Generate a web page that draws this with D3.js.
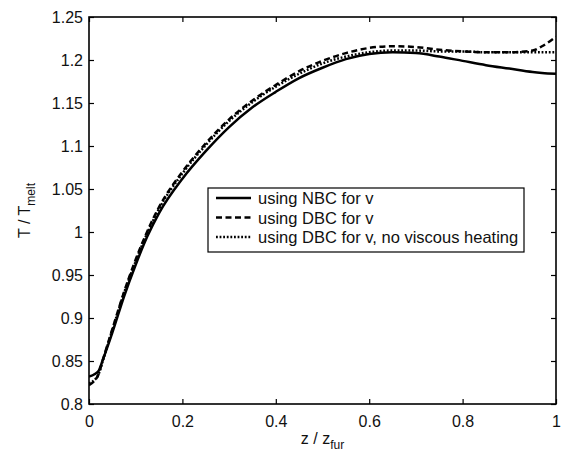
<!DOCTYPE html>
<html>
<head>
<meta charset="utf-8">
<script src="https://cdn.jsdelivr.net/npm/d3@7"></script>
<style>
  html, body { margin: 0; padding: 0; background: #fff; }
  svg { display: block; font-family: "Liberation Sans", Arial, sans-serif; }
</style>
</head>
<body>
<svg id="chart" width="568" height="453"></svg>
<script>
// axial position z / z_fur
const zPos = [0, 0.01, 0.02, 0.03, 0.05, 0.075, 0.1, 0.125, 0.15, 0.2, 0.25, 0.3, 0.35, 0.4,
  0.45, 0.5, 0.55, 0.6, 0.65, 0.7, 0.75, 0.8, 0.85, 0.9, 0.95, 0.97, 1.0];

// T / T_melt, Neumann boundary condition for v
const tNBC = [0.832, 0.834, 0.838, 0.852, 0.883, 0.925, 0.962, 0.995, 1.022, 1.062, 1.094, 1.122,
  1.145, 1.163, 1.179, 1.191, 1.201, 1.207, 1.209, 1.208, 1.204, 1.199, 1.194, 1.190, 1.186, 1.185, 1.184];

// T / T_melt, Dirichlet boundary condition for v
const tDBC = [0.822, 0.826, 0.834, 0.852, 0.887, 0.930, 0.968, 1.001, 1.029, 1.070, 1.103, 1.131,
  1.153, 1.171, 1.187, 1.199, 1.208, 1.214, 1.216, 1.215, 1.212, 1.210, 1.209, 1.209, 1.211, 1.216, 1.227];

// T / T_melt, Dirichlet boundary condition, viscous heating switched off
const tDBCnoVisc = [0.824, 0.827, 0.834, 0.851, 0.886, 0.929, 0.966, 0.999, 1.027, 1.068, 1.101, 1.129,
  1.151, 1.169, 1.184, 1.196, 1.204, 1.209, 1.211, 1.211, 1.210, 1.210, 1.209, 1.209, 1.209, 1.209, 1.209];

const seriesNames = ["using NBC for v", "using DBC for v", "using DBC for v, no viscous heating"];
const xTicks = [0, 0.2, 0.4, 0.6, 0.8, 1];
const yTicks = [0.8, 0.85, 0.9, 0.95, 1, 1.05, 1.1, 1.15, 1.2, 1.25];

const dashStyles = [null, "6,3.5", "1.8,1.8"];

const svg = d3.select("#chart");
const margin = { left: 89, right: 12, top: 17, bottom: 49 };
const W = 568, H = 453;
const innerW = W - margin.left - margin.right;
const innerH = H - margin.top - margin.bottom;

const x = d3.scaleLinear().domain([0, 1]).range([margin.left, margin.left + innerW]);
const y = d3.scaleLinear().domain([0.8, 1.25]).range([margin.top + innerH, margin.top]);

const fmt = d => String(+d.toFixed(2));

// axes: ticks pointing inward on all four sides
const axisFont = "16px";
const gB = svg.append("g").attr("transform", `translate(0,${y(0.8)})`)
  .call(d3.axisBottom(x).tickValues(xTicks).tickFormat(fmt).tickSizeInner(-5).tickSizeOuter(0).tickPadding(12));
const gT = svg.append("g").attr("transform", `translate(0,${y(1.25)})`)
  .call(d3.axisTop(x).tickValues(xTicks).tickFormat("").tickSizeInner(-5).tickSizeOuter(0));
const gL = svg.append("g").attr("transform", `translate(${x(0)},0)`)
  .call(d3.axisLeft(y).tickValues(yTicks).tickFormat(fmt).tickSizeInner(-5).tickSizeOuter(0).tickPadding(6));
const gR = svg.append("g").attr("transform", `translate(${x(1)},0)`)
  .call(d3.axisRight(y).tickValues(yTicks).tickFormat("").tickSizeInner(-5).tickSizeOuter(0));

[gB, gT, gL, gR].forEach(g => {
  g.select(".domain").remove();
  g.selectAll(".tick line").attr("stroke", "#000").attr("stroke-width", 1.2);
  g.selectAll(".tick text").attr("fill", "#111").style("font-size", axisFont)
    .style("font-family", "'Liberation Sans', Arial, sans-serif");
});

// data curves
const series = [tNBC, tDBC, tDBCnoVisc];
const line = d3.line().x((d, i) => x(zPos[i])).y(d => y(d)).curve(d3.curveMonotoneX);
svg.append("clipPath").attr("id", "plotclip").append("rect")
  .attr("x", x(0)).attr("y", y(1.25) - 3).attr("width", innerW).attr("height", innerH + 3);
const plot = svg.append("g").attr("clip-path", "url(#plotclip)");
series.forEach((vals, k) => {
  plot.append("path").datum(vals)
    .attr("d", line)
    .attr("fill", "none")
    .attr("stroke", "#000")
    .attr("stroke-width", 2.5)
    .attr("stroke-dasharray", dashStyles[k]);
});

// frame
svg.append("rect")
  .attr("x", x(0)).attr("y", y(1.25)).attr("width", innerW).attr("height", innerH)
  .attr("fill", "none").attr("stroke", "#000").attr("stroke-width", 1.6);

// axis titles
const xl = svg.append("text").attr("x", x(0.5)).attr("y", 444)
  .attr("text-anchor", "middle").style("font-size", "16px").attr("fill", "#111");
xl.append("tspan").text("z / z");
xl.append("tspan").attr("dy", 5).style("font-size", "12px").text("fur");

const yl = svg.append("text")
  .attr("transform", `translate(30,${y(1.025)}) rotate(-90)`)
  .attr("text-anchor", "middle").style("font-size", "16px").attr("fill", "#111");
yl.append("tspan").text("T / T");
yl.append("tspan").attr("dy", 5).style("font-size", "12px").text("melt");

// legend
const lg = svg.append("g");
const lgX = 208, lgY = 188, rowH = 19.5;
lg.append("rect").attr("x", lgX).attr("y", lgY).attr("width", 316).attr("height", 64)
  .attr("fill", "#fff").attr("stroke", "#000").attr("stroke-width", 1.2);
seriesNames.forEach((name, k) => {
  const cy = lgY + 10 + k * rowH;
  lg.append("line").attr("x1", lgX + 8).attr("x2", lgX + 43).attr("y1", cy).attr("y2", cy)
    .attr("stroke", "#000").attr("stroke-width", 2.5).attr("stroke-dasharray", dashStyles[k]);
  lg.append("text").attr("x", lgX + 50).attr("y", cy + 6).style("font-size", "16.5px")
    .attr("fill", "#111").text(name);
});
</script>
</body>
</html>
